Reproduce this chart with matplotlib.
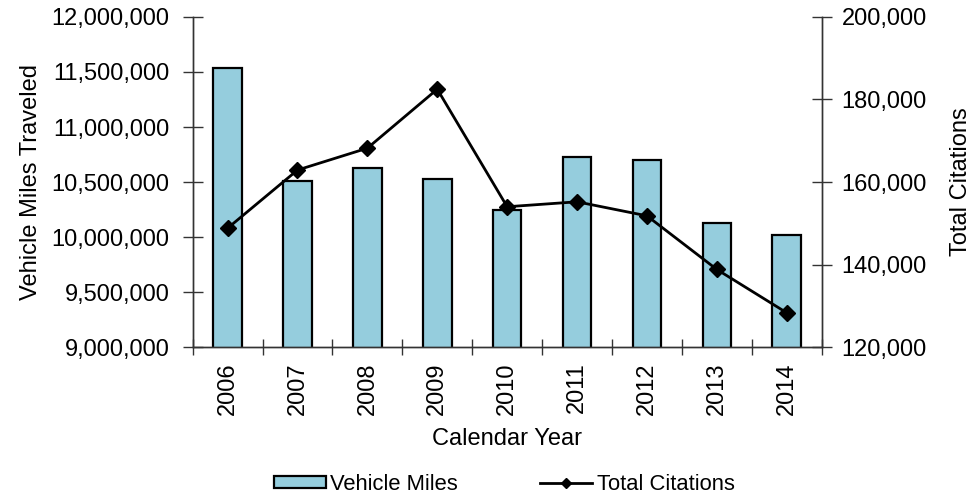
import numpy as np
import matplotlib
matplotlib.use("Agg")
import matplotlib.pyplot as plt
from matplotlib.ticker import FuncFormatter, MultipleLocator

plt.rcParams['font.family'] = ['Liberation Sans', 'DejaVu Sans']

#%% data
years = ['2006', '2007', '2008', '2009', '2010', '2011', '2012', '2013', '2014']
vehicle_miles = [11536000, 10512000, 10630000, 10530000, 10243000,
                 10725000, 10703000, 10127000, 10018000]
total_citations = [148800, 162900, 168200, 182500, 154000,
                   155200, 151800, 138800, 128300]

FS = 17

#%% figure
fig = plt.figure(figsize=(9.74, 4.97), dpi=100)
ax = fig.add_axes([0.1978, 0.3018, 0.6458, 0.664])
ax2 = ax.twinx()

x = np.arange(len(years))
bars = ax.bar(x, vehicle_miles, width=0.41, color='#95CDDD',
              edgecolor='black', linewidth=1.6, label='Vehicle Miles', zorder=2)
ln, = ax2.plot(x, total_citations, color='black', linewidth=2.0,
               marker='D', markersize=8, label='Total Citations', zorder=3)

ax.set_xlim(-0.5, len(years) - 0.5)
ax.set_ylim(9000000, 12000000)
ax2.set_ylim(120000, 200000)
ax.yaxis.set_major_locator(MultipleLocator(500000))
ax2.yaxis.set_major_locator(MultipleLocator(20000))
fmt = FuncFormatter(lambda v, p: '{:,.0f}'.format(v))
ax.yaxis.set_major_formatter(fmt)
ax2.yaxis.set_major_formatter(fmt)

ax.set_xticks(x)
ax.set_xticklabels(years, rotation=90)
ax.set_xticks(np.arange(len(years) + 1) - 0.5, minor=True)
ax.tick_params(axis='x', which='major', length=0, labelsize=FS, pad=11)
ax.tick_params(axis='x', which='minor', direction='inout', length=12,
               width=1, color='#333333')
ax.tick_params(axis='y', direction='inout', length=14, width=1,
               color='#333333', labelsize=FS, pad=9.6)
ax2.tick_params(axis='y', direction='inout', length=14, width=1,
                color='#333333', labelsize=FS, pad=7.4)

for a in (ax, ax2):
    a.spines['top'].set_visible(False)
    for s in ('left', 'right', 'bottom'):
        a.spines[s].set_color('#333333')
        a.spines[s].set_linewidth(1.0)

ax.set_xlabel('Calendar Year', fontsize=FS)
ax.set_ylabel('Vehicle Miles Traveled', fontsize=FS)
ax2.set_ylabel('Total Citations', fontsize=FS)
ax.xaxis.set_label_coords(0.5, -0.2455)
ax.yaxis.set_label_coords(-0.2396, 0.5)
ax2.yaxis.set_label_coords(1.2036, 0.5)

ax.set_zorder(1)
ax2.set_zorder(2)
ax.patch.set_visible(False)

fig.legend([bars, ln], ['Vehicle Miles', 'Total Citations'],
           loc='center', bbox_to_anchor=(0.5175, 0.026), ncol=2,
           frameon=False, fontsize=15.8, columnspacing=3.75,
           handlelength=2.37, handleheight=0.5, handletextpad=0.2,
           markerscale=0.6, borderpad=0.1)

fig.savefig('out.png', dpi=100)
